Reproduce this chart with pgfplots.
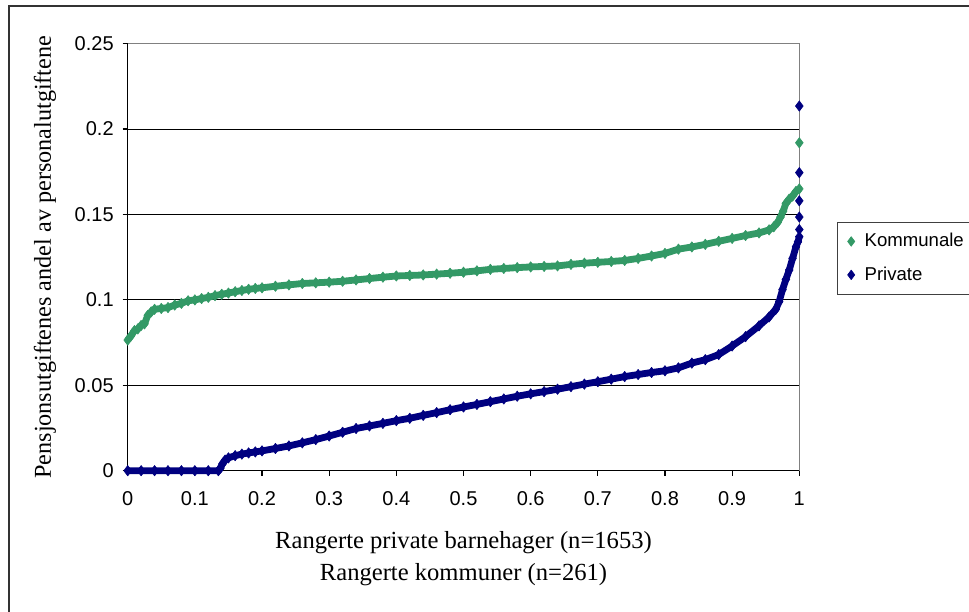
\documentclass[border=0pt]{standalone}
\usepackage{pgfplots}
\pgfplotsset{compat=1.18}
\usepackage{fontspec}
\setmainfont{Liberation Serif}
\newfontfamily\arial{Liberation Sans}
\definecolor{kgreen}{RGB}{51,153,102}
\definecolor{pnavy}{RGB}{0,0,128}

% ranked shares
\pgfplotstableread{
x      y
0.000  0.0765
0.005  0.0790
0.010  0.0820
0.015  0.0830
0.020  0.0850
0.025  0.0860
0.030  0.0910
0.035  0.0930
0.040  0.0945
0.050  0.0950
0.060  0.0955
0.070  0.0970
0.080  0.0980
0.090  0.0995
0.100  0.1000
0.110  0.1008
0.120  0.1015
0.130  0.1025
0.140  0.1033
0.150  0.1040
0.160  0.1048
0.170  0.1055
0.180  0.1062
0.190  0.1067
0.200  0.1071
0.220  0.1080
0.240  0.1088
0.260  0.1096
0.280  0.1100
0.300  0.1104
0.320  0.1109
0.340  0.1117
0.360  0.1125
0.380  0.1133
0.400  0.1140
0.420  0.1143
0.440  0.1146
0.460  0.1151
0.480  0.1156
0.500  0.1162
0.520  0.1170
0.540  0.1179
0.560  0.1184
0.580  0.1189
0.600  0.1193
0.620  0.1196
0.640  0.1199
0.660  0.1208
0.680  0.1215
0.700  0.1220
0.720  0.1225
0.740  0.1231
0.760  0.1243
0.780  0.1257
0.800  0.1272
0.820  0.1297
0.840  0.1310
0.860  0.1325
0.880  0.1343
0.900  0.1360
0.920  0.1377
0.940  0.1392
0.955  0.1410
0.962  0.1428
0.968  0.1455
0.972  0.1485
0.976  0.1520
0.980  0.1565
0.985  0.1590
0.990  0.1608
0.995  0.1635
1.000  0.1650
}\kommunale

\pgfplotstableread{
x      y
0.000  0.0000
0.020  0.0000
0.040  0.0000
0.060  0.0000
0.080  0.0000
0.100  0.0000
0.120  0.0000
0.135  0.0000
0.138  0.0015
0.141  0.0040
0.145  0.0062
0.150  0.0075
0.160  0.0088
0.170  0.0097
0.180  0.0104
0.190  0.0110
0.200  0.0116
0.220  0.0130
0.240  0.0145
0.260  0.0163
0.280  0.0182
0.300  0.0203
0.320  0.0225
0.340  0.0247
0.360  0.0262
0.380  0.0277
0.400  0.0293
0.420  0.0307
0.440  0.0324
0.460  0.0340
0.480  0.0357
0.500  0.0373
0.520  0.0388
0.540  0.0404
0.560  0.0420
0.580  0.0436
0.600  0.0450
0.620  0.0463
0.640  0.0477
0.660  0.0492
0.680  0.0507
0.700  0.0521
0.720  0.0536
0.740  0.0551
0.760  0.0563
0.780  0.0575
0.800  0.0585
0.820  0.0602
0.840  0.0630
0.860  0.0650
0.880  0.0680
0.900  0.0730
0.920  0.0785
0.940  0.0848
0.955  0.0900
0.965  0.0945
0.970  0.0990
0.975  0.1060
0.980  0.1120
0.985  0.1175
0.990  0.1243
0.995  0.1311
0.998  0.1340
1.000  0.1370
}\private

\begin{document}
\begin{tikzpicture}
\path[use as bounding box] (0,0) rectangle (484.5bp,306bp);
\draw[line width=1bp, black!80] (4.5bp,-10bp) -- (4.5bp,303bp) -- (500bp,303bp);
\begin{axis}[
  at={(63.85bp,70.65bp)}, anchor=south west,
  width=335.8bp, height=213.5bp, scale only axis,
  xmin=0, xmax=1, ymin=0, ymax=0.25,
  clip=false,
  axis lines*=left,
  axis line style={-, black, line width=0.6bp},
  xtick={0,0.1,0.2,0.3,0.4,0.5,0.6,0.7,0.8,0.9,1},
  ytick={0,0.05,0.1,0.15,0.2,0.25},
  scaled ticks=false,
  tick align=outside,
  major tick length=2.5bp,
  tick style={black, line width=0.6bp},
  ymajorgrids,
  major grid style={black, line width=0.5bp},
  /pgf/number format/fixed,
  /pgf/number format/precision=2,
  /pgf/number format/assume math mode=true,
  tick label style={font=\arial\fontsize{10bp}{12bp}\selectfont},
  xticklabel style={yshift=-4.5bp},
  yticklabel style={xshift=-1bp},
  xlabel={Rangerte private barnehager (n=1653)\\Rangerte kommuner (n=261)},
  xlabel style={align=center, font=\fontsize{12.3bp}{16bp}\selectfont,
    at={(axis description cs:0.5,-0.2068)}, anchor=center},
  ylabel={Pensjonsutgiftenes andel av personalutgiftene},
  ylabel style={font=\fontsize{12.1bp}{14bp}\selectfont,
    at={(axis description cs:-0.1231,0.5)}, anchor=center},
  legend cell align=left,
  legend style={at={(1.0566,0.5831)}, anchor=north west,
    draw=black!75, line width=0.5bp,
    font=\arial\fontsize{9.3bp}{11bp}\selectfont,
    inner xsep=1bp, inner ysep=3.5bp, row sep=4.5bp},
  legend image code/.code={\path (-4bp,0bp) (3bp,0bp);
    \draw[only marks, mark size=2.4bp] plot coordinates {(0bp,0bp)};},
]
\draw[gray, line width=0.6bp] (rel axis cs:0,1) -- (rel axis cs:1,1) -- (rel axis cs:1,0);
\addplot[kgreen, line width=3.4bp, line join=round, mark=diamond*,
  mark size=2.6bp, mark options={line width=0.3bp}]
  table[x=x, y=y] {\kommunale};
\addlegendentry{Kommunale}
\addplot[pnavy, line width=3.4bp, line join=round, mark=diamond*,
  mark size=2.6bp, mark options={line width=0.3bp}]
  table[x=x, y=y] {\private};
\addlegendentry{Private}
\addplot[kgreen, only marks, mark=diamond*, mark size=2.5bp,
  forget plot] coordinates {(1.000,0.192)};
\addplot[pnavy, only marks, mark=diamond*, mark size=2.5bp,
  forget plot] coordinates {(1.000,0.1412) (1.000,0.1485) (1.000,0.1580) (1.000,0.1745) (1.000,0.2135)};
\end{axis}
\end{tikzpicture}
\end{document}
